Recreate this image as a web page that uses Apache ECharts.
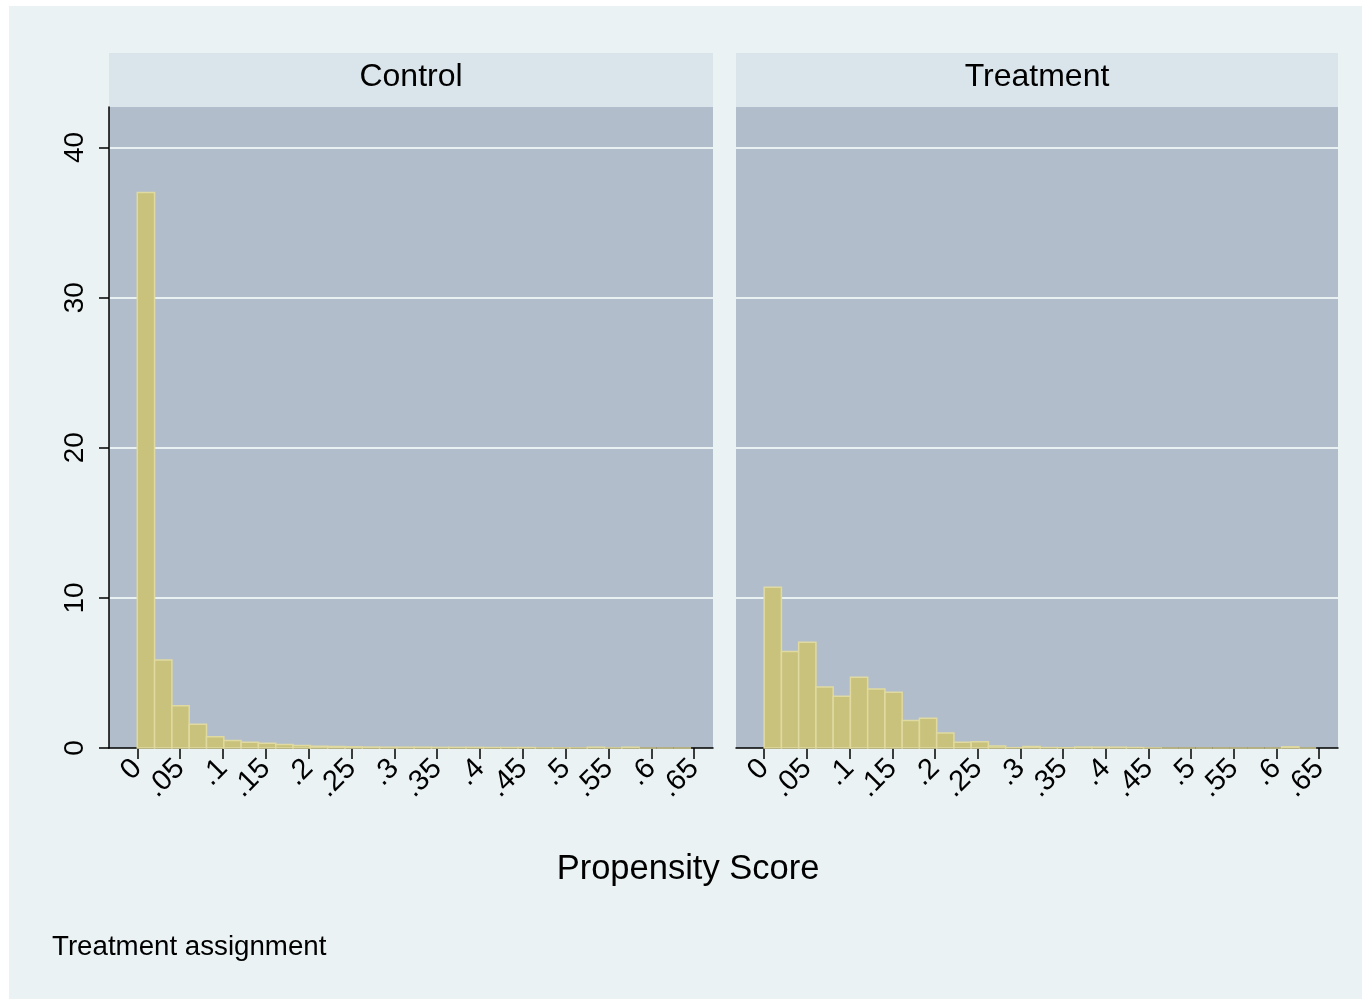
<!DOCTYPE html>
<html>
<head>
<meta charset="utf-8">
<script src="https://cdn.jsdelivr.net/npm/echarts@6/dist/echarts.min.js"></script>
<style>
html,body{margin:0;padding:0;background:#ffffff;}
#chart{width:1370px;height:1002px;}
</style>
</head>
<body>
<div id="chart"></div>
<script>
// ---- data ----
var panelNames = ['Control', 'Treatment'];
var binStart = 0;
var binWidth = 0.0202;
var controlCounts = [37.0, 5.87, 2.82, 1.58, 0.75, 0.50, 0.38, 0.31, 0.24, 0.16,
  0.12, 0.10, 0.08, 0.06, 0.05, 0.05, 0.05, 0.04, 0.04, 0.04,
  0.03, 0.03, 0.03, 0.01, 0.01, 0.01, 0.05, 0.01, 0.05, 0.0, 0.0, 0.0];
var treatmentCounts = [10.71, 6.42, 7.05, 4.07, 3.44, 4.71, 3.93, 3.71, 1.84, 1.98,
  1.00, 0.38, 0.42, 0.13, 0.02, 0.10, 0.03, 0.02, 0.06, 0.05,
  0.05, 0.03, 0.01, 0.0, 0.0, 0.0, 0.0, 0.0, 0.0, 0.0, 0.08, 0.0];
var xTickValues = [0, 0.05, 0.1, 0.15, 0.2, 0.25, 0.3, 0.35, 0.4, 0.45, 0.5, 0.55, 0.6, 0.65];
var xTickLabels = ['0', '.05', '.1', '.15', '.2', '.25', '.3', '.35', '.4', '.45', '.5', '.55', '.6', '.65'];
var yTickLabels = ['0', '10', '20', '30', '40'];
var xAxisTitle = 'Propensity Score';
var noteText = 'Treatment assignment';

// ---- build ----
var FONT = "'Liberation Sans', Arial, Helvetica, sans-serif";
var FILL = 'rgb(200,194,124)';
var EDGE = 'rgb(224,218,160)';

function toBins(counts) {
  return counts.map(function (c, i) {
    return [binStart + i * binWidth, binStart + (i + 1) * binWidth, c];
  });
}

function renderBar(params, api) {
  var lo = api.value(0), hi = api.value(1), v = api.value(2);
  var p0 = api.coord([lo, 0]);
  var p1 = api.coord([hi, v]);
  return {
    type: 'rect',
    shape: { x: p0[0], y: p1[1], width: p1[0] - p0[0], height: p0[1] - p1[1] },
    style: { fill: FILL, stroke: EDGE, lineWidth: 1.5 }
  };
}

var grids = [
  { left: 109, right: 657, top: 107, bottom: 254, show: true, backgroundColor: '#b1bdca', borderWidth: 0 },
  { left: 736, right: 32, top: 107, bottom: 254, show: true, backgroundColor: '#b1bdca', borderWidth: 0 }
];

function xAxisFor(i) {
  return {
    type: 'value', gridIndex: i, min: -0.033, max: 0.672,
    splitLine: { show: false },
    axisLine: { show: true, onZero: false, lineStyle: { color: '#000', width: 1.5 } },
    axisTick: { show: true, length: 11, customValues: xTickValues, lineStyle: { color: '#000', width: 1.5 } },
    axisLabel: {
      show: true, rotate: 45, margin: 16, fontSize: 29, color: '#000', fontFamily: FONT,
      customValues: xTickValues,
      formatter: function (v) {
        for (var k = 0; k < xTickValues.length; k++) {
          if (Math.abs(xTickValues[k] - v) < 1e-9) return xTickLabels[k];
        }
        return '';
      }
    }
  };
}

function yAxisFor(i) {
  var showAxis = i === 0;
  return {
    type: 'value', gridIndex: i, min: 0, max: 42.7, interval: 10,
    splitLine: { show: true, showMinLine: false, showMaxLine: false, lineStyle: { color: '#eaf1f3', width: 2 } },
    axisLine: { show: showAxis, onZero: false, lineStyle: { color: '#000', width: 1.5 } },
    axisTick: { show: showAxis, length: 10, lineStyle: { color: '#000', width: 1.5 } },
    axisLabel: {
      show: showAxis, rotate: 90, margin: 20, fontSize: 28, color: '#000', fontFamily: FONT,
      showMaxLabel: false,
      formatter: function (v) {
        var idx = Math.round(v / 10);
        return (Math.abs(v - idx * 10) < 1e-9 && yTickLabels[idx] !== undefined) ? yTickLabels[idx] : '';
      }
    }
  };
}

var option = {
  backgroundColor: '#ffffff',
  animation: false,
  grid: grids,
  xAxis: [xAxisFor(0), xAxisFor(1)],
  yAxis: [yAxisFor(0), yAxisFor(1)],
  series: [
    { type: 'custom', name: panelNames[0], xAxisIndex: 0, yAxisIndex: 0, renderItem: renderBar,
      encode: { x: [0, 1], y: 2 }, data: toBins(controlCounts), z: 3 },
    { type: 'custom', name: panelNames[1], xAxisIndex: 1, yAxisIndex: 1, renderItem: renderBar,
      encode: { x: [0, 1], y: 2 }, data: toBins(treatmentCounts), z: 3 }
  ],
  graphic: [
    { type: 'rect', z: -100, silent: true, shape: { x: 9, y: 6, width: 1353, height: 993 }, style: { fill: '#eaf2f3' } },
    { type: 'rect', z: -50, silent: true, shape: { x: 109, y: 53, width: 604, height: 54 }, style: { fill: '#d9e5eb' } },
    { type: 'rect', z: -50, silent: true, shape: { x: 736, y: 53, width: 602, height: 54 }, style: { fill: '#d9e5eb' } },
    { type: 'text', x: 411, y: 77, style: { text: panelNames[0], fill: '#000', font: '32px ' + FONT, align: 'center', verticalAlign: 'middle' } },
    { type: 'text', x: 1037, y: 77, style: { text: panelNames[1], fill: '#000', font: '32px ' + FONT, align: 'center', verticalAlign: 'middle' } },
    { type: 'text', x: 688, y: 869, style: { text: xAxisTitle, fill: '#000', font: '34.5px ' + FONT, align: 'center', verticalAlign: 'middle' } },
    { type: 'text', x: 52, y: 947, style: { text: noteText, fill: '#000', font: '27.7px ' + FONT, align: 'left', verticalAlign: 'middle' } }
  ]
};

var chart = echarts.init(document.getElementById('chart'), null, { renderer: 'canvas' });
chart.setOption(option);
</script>
</body>
</html>
